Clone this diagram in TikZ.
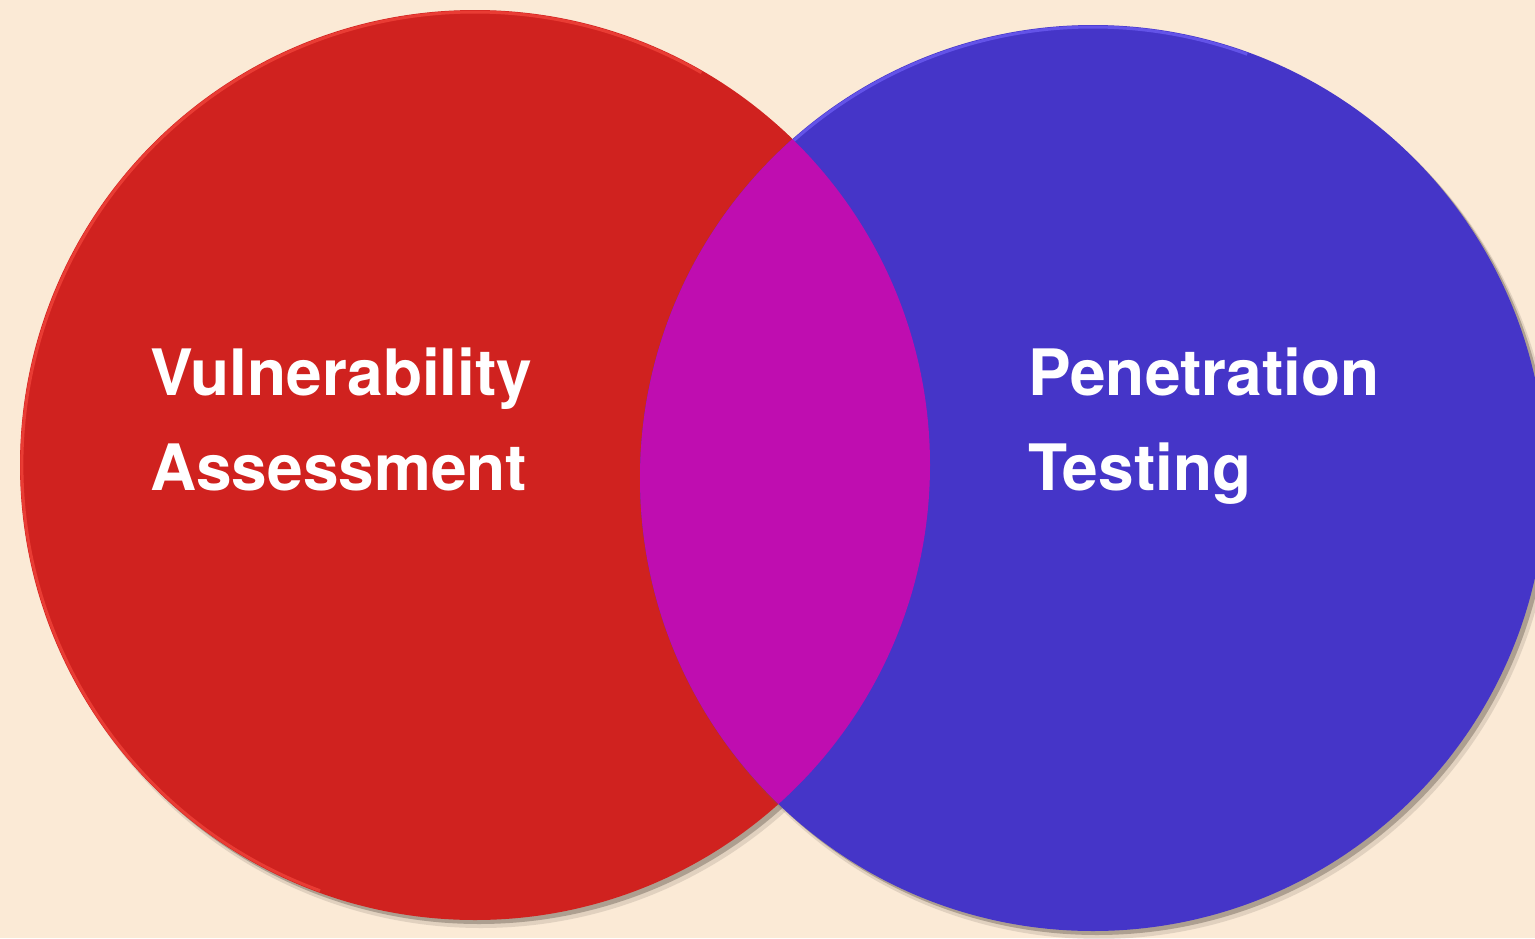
\documentclass[tikz,border=0pt]{standalone}
\usepackage{fontspec}
\setmainfont{TeX Gyre Heros}
\definecolor{bg}{HTML}{FBEAD6}
\definecolor{vared}{HTML}{D0221F}
\definecolor{varim}{HTML}{F0433A}
\definecolor{ptblue}{HTML}{4535C8}
\definecolor{ptrim}{HTML}{6B5BF0}
\definecolor{overlap}{HTML}{BF0DB0}
\definecolor{shadowc}{HTML}{6E6358}
\begin{document}
\begin{tikzpicture}[x=1pt,y=-1pt,
  lbl/.style={anchor=base west, text=white, inner sep=0pt,
    font=\fontsize{64}{70}\selectfont\bfseries},
  shade1/.style={fill=shadowc, opacity=0.18},
  shade2/.style={fill=shadowc, opacity=0.45}]
\useasboundingbox (0,0) rectangle (1535,938);
\clip (0,0) rectangle (1535,938);
\fill[bg] (0,0) rectangle (1535,938);
% red circle (Vulnerability Assessment)
\fill[shade1] (481,472) circle[radius=456];
\fill[shade2] (479,469) circle[radius=455];
\fill[vared] (475,465) circle[radius=455];
\draw[varim, line width=3, opacity=0.8] (475,465) ++(110:453) arc[start angle=110, end angle=300, radius=453];
% blue circle (Penetration Testing)
\fill[shade1] (1099,485) circle[radius=454];
\fill[shade2] (1097,482) circle[radius=453];
\fill[ptblue] (1093,478) circle[radius=453];
\draw[ptrim, line width=3, opacity=0.8] (1093,478) ++(228:451) arc[start angle=228, end angle=290, radius=451];
% overlap
\begin{scope}
  \clip (475,465) circle[radius=455];
  \fill[overlap] (1093,478) circle[radius=453];
\end{scope}
% labels
\node[lbl] (va1) at (150,395) {Vulnerability};
\node[lbl] (va2) at (150,490) {Assessment};
\node[lbl] (pt1) at (1028,395) {Penetration};
\node[lbl] (pt2) at (1028,490) {Testing};
\end{tikzpicture}
\end{document}
